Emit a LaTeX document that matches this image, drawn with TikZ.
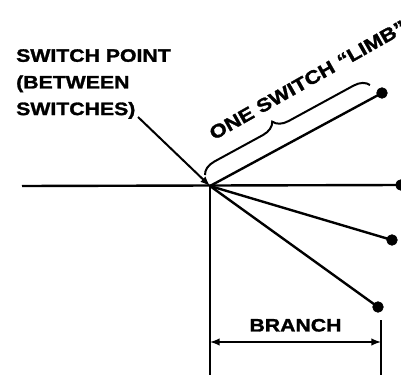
\documentclass[tikz,border=0pt]{standalone}
\usepackage{fontspec}
\newfontfamily\lblfont[FakeStretch=1.18,FakeBold=1.5]{Liberation Sans}
\usetikzlibrary{decorations.pathreplacing}
\begin{document}
\begin{tikzpicture}[x=0.75pt,y=-0.75pt,line width=1.8pt,
  dot/.style={draw,circle,fill=black,inner sep=0pt,minimum size=8pt,line width=0.5pt},
  lbl/.style={font=\lblfont\bfseries\fontsize{13.5}{20}\selectfont,inner sep=0pt}]
\useasboundingbox (0,0) rectangle (401,375);
\coordinate (SP) at (210,186);
\coordinate (L) at (22,186);
\node[dot] (D0) at (401,185) {};
\node[dot] (D1) at (382,93) {};
\node[dot] (D2) at (392,240) {};
\node[dot] (D3) at (378,307) {};
\draw (L) -- (D0.center);
\draw (SP) -- (D1.center);
\draw (SP) -- (D2.center);
\draw (SP) -- (D3.center);
% label and arrow to the switch point
\node[lbl,align=left,anchor=north west] (SPT) at (15,48) {SWITCH POINT\\(BETWEEN\\SWITCHES)};
\coordinate (A0) at (138,117);
\draw[->,>=latex,line width=1.5pt] (A0) -- (SP);
% brace over one limb
\coordinate (B0) at (205,175);
\coordinate (B1) at (370,85);
\draw[decorate,decoration={brace,amplitude=11pt,aspect=0.45},line width=1.5pt] (B0) -- (B1);
\node[lbl,font=\lblfont\bfseries\fontsize{14}{20}\selectfont,rotate=29.5,anchor=base west] (LIMB) at (213,141) {ONE SWITCH “LIMB”};
% branch dimension
\coordinate (V0) at (210,375);
\coordinate (V1) at (381,320);
\coordinate (V2) at (381,375);
\draw (SP) -- (V0);
\draw (V1) -- (V2);
\coordinate (M0) at (210,342);
\coordinate (M1) at (381,342);
\draw[<->,>=latex,line width=1.5pt] (M0) -- node[lbl,above=7pt] (BR) {BRANCH} (M1);
\end{tikzpicture}
\end{document}
